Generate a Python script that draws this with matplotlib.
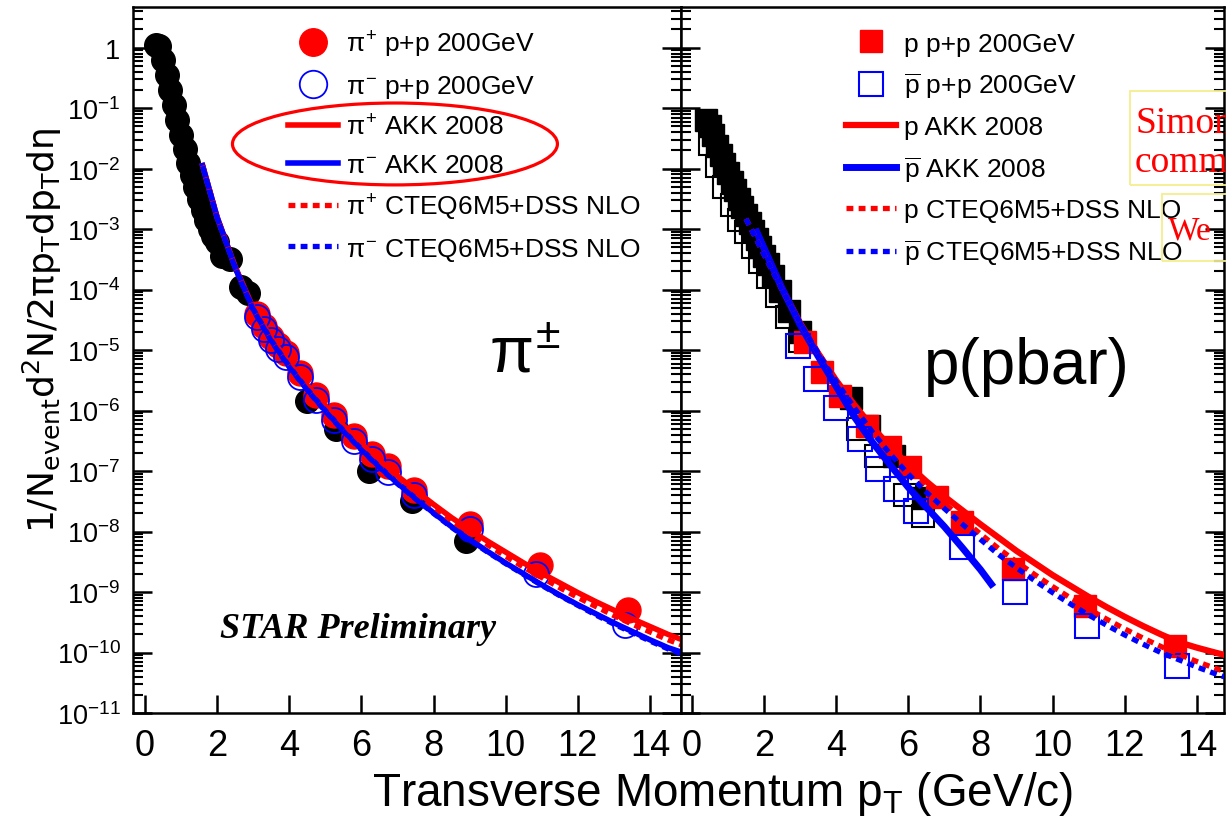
import numpy as np
import matplotlib.pyplot as plt
from matplotlib.patches import Ellipse, Rectangle
from matplotlib.ticker import LogLocator, NullFormatter

plt.rcParams['font.family'] = ['Liberation Sans', 'DejaVu Sans']
plt.rcParams['mathtext.fontset'] = 'custom'
plt.rcParams['mathtext.rm'] = 'Liberation Sans'
plt.rcParams['mathtext.it'] = 'Liberation Sans'
plt.rcParams['mathtext.bf'] = 'Liberation Sans:bold'

# ---- data (y values stored as log10) ----
# left panel: pions
blk_pi_x = [0.3, 0.4, 0.5, 0.6, 0.7, 0.8, 0.9, 1.0, 1.1, 1.2, 1.3, 1.4, 1.5, 1.6,
            1.7, 1.8, 1.9, 2.0, 2.15, 2.35, 2.65, 2.85, 4.5, 5.3, 6.2, 7.4, 8.9]
blk_pi_logy = [0.05, 0.02, -0.2, -0.45, -0.7, -0.95, -1.2, -1.45, -1.68, -1.9, -2.1,
               -2.3, -2.5, -2.68, -2.85, -3.0, -3.12, -3.22, -3.45, -3.5, -3.95, -4.05,
               -5.85, -6.3, -7.0, -7.5, -8.15]
pip_x = [3.1, 3.3, 3.5, 3.7, 3.9, 4.3, 4.75, 5.25, 5.8, 6.3, 6.75, 7.45, 9.0, 10.95, 13.4]
pip_logy = [-4.4, -4.6, -4.78, -4.92, -5.05, -5.38, -5.75, -6.08, -6.42, -6.72, -6.92,
            -7.32, -7.87, -8.56, -9.3]
pim_x = [3.1, 3.3, 3.5, 3.7, 3.9, 4.3, 4.75, 5.25, 5.8, 6.3, 6.75, 7.45, 9.0, 10.85, 13.3]
pim_logy = [-4.45, -4.65, -4.83, -4.98, -5.12, -5.45, -5.82, -6.15, -6.5, -6.8, -7.02,
            -7.4, -7.95, -8.7, -9.55]

curve_pi_x = [1.6, 2.0, 2.5, 3.0, 3.5, 4.0, 4.5, 5.0, 5.5, 6.0, 6.5, 7.0, 7.5, 8.0,
              8.5, 9.0, 9.5, 10.0, 10.5, 11.0, 11.5, 12.0, 12.5, 13.0, 13.5, 14.0, 14.5, 14.9]
akk_pip = [-1.95, -2.8, -3.62, -4.3, -4.8, -5.22, -5.58, -5.92, -6.25, -6.55, -6.82, -7.08,
           -7.32, -7.55, -7.77, -7.97, -8.16, -8.34, -8.52, -8.69, -8.85, -9.01, -9.16,
           -9.3, -9.44, -9.57, -9.7, -9.79]
akk_pim = [-1.95, -2.8, -3.63, -4.32, -4.84, -5.27, -5.65, -6.0, -6.33, -6.64, -6.93, -7.2,
           -7.45, -7.69, -7.92, -8.13, -8.33, -8.52, -8.7, -8.88, -9.05, -9.21, -9.36,
           -9.51, -9.65, -9.79, -9.92, -10.0]
nlo_pip = [-1.95, -2.8, -3.62, -4.31, -4.82, -5.24, -5.61, -5.95, -6.28, -6.58, -6.86, -7.12,
           -7.37, -7.6, -7.82, -8.03, -8.22, -8.41, -8.59, -8.76, -8.93, -9.09, -9.24,
           -9.39, -9.53, -9.66, -9.79, -9.88]
nlo_pim = [-1.96, -2.81, -3.64, -4.33, -4.85, -5.28, -5.66, -6.01, -6.34, -6.65, -6.94, -7.21,
           -7.46, -7.7, -7.93, -8.14, -8.34, -8.53, -8.71, -8.89, -9.06, -9.22, -9.38,
           -9.53, -9.67, -9.81, -9.94, -10.03]

# right panel: protons
blk_p_x = [0.4, 0.5, 0.6, 0.7, 0.8, 0.9, 1.0, 1.1, 1.2, 1.3, 1.4, 1.5, 1.6, 1.7, 1.8,
           1.9, 2.0, 2.1, 2.25, 2.45, 2.7, 3.0, 4.4, 4.9, 5.6, 6.4]
blk_p_logy = [-1.2, -1.3, -1.45, -1.62, -1.78, -1.93, -2.08, -2.22, -2.36, -2.5, -2.63,
              -2.76, -2.9, -3.03, -3.16, -3.3, -3.44, -3.57, -3.77, -4.02, -4.35, -4.7,
              -5.8, -6.25, -6.75, -7.45]
blk_pbar_x = [0.5, 0.7, 0.9, 1.1, 1.3, 1.5, 1.7, 1.9, 2.1, 2.35, 2.65, 3.0, 4.6, 5.1, 5.9, 6.4]
blk_pbar_logy = [-1.6, -1.95, -2.3, -2.6, -2.85, -3.05, -3.3, -3.55, -3.8, -4.1, -4.45,
                 -4.85, -6.3, -6.75, -7.4, -7.75]
p_x = [3.15, 3.6, 4.1, 4.85, 5.5, 6.05, 6.8, 7.5, 8.9, 10.9, 13.4]
p_logy = [-4.86, -5.36, -5.76, -6.25, -6.6, -6.93, -7.43, -7.84, -8.62, -9.23, -9.89]
pbar_x = [2.95, 3.45, 4.0, 4.65, 5.15, 5.65, 6.2, 7.5, 8.95, 10.95, 13.45]
pbar_logy = [-4.93, -5.48, -5.95, -6.47, -6.96, -7.3, -7.66, -8.25, -9.0, -9.56, -10.22]

akk_p_x = [1.8, 2.5, 3.0, 3.5, 4.0, 4.5, 5.0, 5.5, 6.0, 6.5, 7.0, 7.5, 8.0, 8.5, 9.0,
           9.5, 10.0, 10.5, 11.0, 11.5, 12.0, 12.5, 13.0, 13.5, 14.0, 14.5, 14.9]
akk_p = [-3.05, -3.98, -4.55, -5.05, -5.5, -5.9, -6.27, -6.6, -6.9, -7.17, -7.42, -7.65,
         -7.88, -8.1, -8.32, -8.52, -8.72, -8.9, -9.08, -9.25, -9.41, -9.56, -9.7, -9.83,
         -9.92, -10.0, -10.06]
akk_pbar_x = [1.8, 2.5, 3.0, 3.5, 4.0, 4.5, 5.0, 5.5, 6.0, 6.5, 7.0, 7.5, 8.0, 8.3]
akk_pbar = [-3.05, -3.98, -4.58, -5.1, -5.6, -6.1, -6.52, -6.9, -7.27, -7.6, -7.92, -8.27,
            -8.63, -8.87]
nlo_p_x = [1.5, 2.0, 2.5, 3.0, 3.5, 4.0, 4.5, 5.0, 5.5, 6.0, 6.5, 7.0, 7.5, 8.0, 8.5,
           9.0, 9.5, 10.0, 10.5, 11.0, 11.5, 12.0, 12.5, 13.0, 13.5, 14.0, 14.5, 14.9]
nlo_p = [-2.83, -3.42, -4.0, -4.55, -5.05, -5.5, -5.92, -6.3, -6.65, -6.97, -7.26, -7.53,
         -7.79, -8.04, -8.28, -8.5, -8.71, -8.91, -9.1, -9.28, -9.45, -9.61, -9.76, -9.9,
         -10.03, -10.15, -10.26, -10.34]
nlo_pbar = [-2.83, -3.42, -4.0, -4.55, -5.05, -5.52, -5.95, -6.35, -6.72, -7.05, -7.35,
            -7.62, -7.88, -8.13, -8.38, -8.6, -8.81, -9.01, -9.2, -9.38, -9.55, -9.71,
            -9.86, -10.0, -10.12, -10.24, -10.35, -10.43]

xticks = [0, 2, 4, 6, 8, 10, 12, 14]
ydecades = list(range(-11, 1))
ylabels = ['1' if d == 0 else '10$^{%d}$' % d for d in ydecades]

left_labels = [r'$\pi^{+}$ p+p 200GeV', r'$\pi^{-}$ p+p 200GeV', r'$\pi^{+}$ AKK 2008',
               r'$\pi^{-}$ AKK 2008', r'$\pi^{+}$ CTEQ6M5+DSS NLO', r'$\pi^{-}$ CTEQ6M5+DSS NLO']
right_labels = ['p p+p 200GeV', r'$\overline{\mathrm{p}}$ p+p 200GeV', 'p AKK 2008',
                r'$\overline{\mathrm{p}}$ AKK 2008', 'p CTEQ6M5+DSS NLO',
                r'$\overline{\mathrm{p}}$ CTEQ6M5+DSS NLO']


def e(v):
    return np.power(10.0, np.asarray(v))


W, H = 1226, 828
fig = plt.figure(figsize=(W / 100, H / 100), dpi=100)
ax1 = fig.add_axes([133 / W, 1 - 714 / H, 548 / W, 706 / H])
ax2 = fig.add_axes([681 / W, 1 - 714 / H, 543 / W, 706 / H])

narrow = ['Liberation Sans Narrow', 'Liberation Sans', 'DejaVu Sans']


def style(ax, xlim, show_y):
    ax.set_yscale('log')
    ax.set_xlim(*xlim)
    ax.set_ylim(1e-11, 4.7)
    ax.set_xticks(xticks, labels=[str(t) for t in xticks])
    for lab in ax.get_xticklabels():
        lab.set_family(narrow)
    ax.set_yticks(e(ydecades), labels=ylabels if show_y else [''] * len(ydecades))
    ax.yaxis.set_minor_locator(LogLocator(base=10, subs=np.arange(2, 10), numticks=60))
    ax.yaxis.set_minor_formatter(NullFormatter())
    ax.tick_params(axis='y', which='major', direction='in', length=14, width=1.8,
                   left=True, right=True, pad=9, labelsize=19.5)
    ax.tick_params(axis='y', which='minor', direction='in', length=7, width=1.5,
                   left=True, right=True)
    ax.tick_params(axis='x', which='major', direction='in', length=13, width=1.8,
                   top=False, pad=11, labelsize=26)
    for s in ax.spines.values():
        s.set_linewidth(1.8)


style(ax1, (-0.33, 14.86), True)
style(ax2, (-0.30, 14.75), False)

ms = 16
dots = (1.3, 1.0)

# ---- left panel ----
ax1.plot(blk_pi_x, e(blk_pi_logy), 'o', color='black', ms=ms + 1, zorder=2)
h1, = ax1.plot(pip_x, e(pip_logy), 'o', color='red', ms=ms + 2, mec='red', zorder=3)
h2, = ax1.plot(pim_x, e(pim_logy), 'o', mfc='none', mec='blue', mew=1.3, ms=ms + 2, zorder=4)
h3, = ax1.plot(curve_pi_x, e(akk_pip), '-', color='red', lw=4, zorder=5)
h4, = ax1.plot(curve_pi_x, e(akk_pim), '-', color='blue', lw=4, zorder=5)
h5, = ax1.plot(curve_pi_x, e(nlo_pip), color='red', lw=3.8, dashes=dots, zorder=6)
h6, = ax1.plot(curve_pi_x, e(nlo_pim), color='blue', lw=3.8, dashes=dots, zorder=6)
ax1.legend([h1, h2, h3, h4, h5, h6], left_labels, loc='upper left',
           bbox_to_anchor=(0.283, 0.969), frameon=False, fontsize=19, handlelength=1.9,
           handletextpad=0.3, labelspacing=0.53, borderaxespad=0, borderpad=0,
           markerscale=1.1)
ax1.add_patch(Ellipse((0.478, 0.806), 0.593, 0.116, transform=ax1.transAxes,
                      fill=False, edgecolor='red', lw=2.3, clip_on=False, zorder=10))
ax1.text(0.41, 0.119, 'STAR Preliminary', transform=ax1.transAxes, ha='center',
         va='center', family='Liberation Serif', weight='bold', style='italic', fontsize=26)
ax1.text(0.715, 0.508, r'$\pi^{\pm}$', transform=ax1.transAxes, ha='center',
         va='center', fontsize=46)

# ---- right panel ----
ax2.plot(blk_pbar_x, e(blk_pbar_logy), 's', mfc='none', mec='black', mew=1.5, ms=ms, zorder=2)
ax2.plot(blk_p_x, e(blk_p_logy), 's', color='black', ms=ms, zorder=2)
g3, = ax2.plot(akk_p_x, e(akk_p), '-', color='red', lw=4.5, zorder=3)
g1, = ax2.plot(p_x, e(p_logy), 's', color='red', ms=ms, zorder=4)
g2, = ax2.plot(pbar_x, e(pbar_logy), 's', mfc='none', mec='blue', mew=1.5, ms=ms + 1, zorder=5)
g4, = ax2.plot(akk_pbar_x, e(akk_pbar), '-', color='blue', lw=5, zorder=6)
g5, = ax2.plot(nlo_p_x, e(nlo_p), color='red', lw=3.8, dashes=dots, zorder=6)
g6, = ax2.plot(nlo_p_x, e(nlo_pbar), color='blue', lw=3.8, dashes=dots, zorder=6)
ax2.legend([g1, g2, g3, g4, g5, g6], right_labels, loc='upper left',
           bbox_to_anchor=(0.304, 0.965), frameon=False, fontsize=19, handlelength=1.9,
           handletextpad=0.3, labelspacing=0.56, borderaxespad=0, borderpad=0)
ax2.text(0.637, 0.491, 'p(pbar)', transform=ax2.transAxes, ha='center', va='center',
         fontsize=46)

# ---- axis titles ----
fig.text(723 / W, 1 - 806 / H, r'Transverse Momentum p$_\mathrm{T}$ (GeV/c)', ha='center',
         va='baseline', fontsize=33)
fig.text(42 / W, 1 - 330 / H,
         r'1/N$_{\mathrm{event}}$d$^{2}$N/2$\mathrm{\pi}$p$_{\mathrm{T}}$dp$_{\mathrm{T}}$d$\mathrm{\eta}$',
         rotation=90, ha='center', va='center', fontsize=26, family='DejaVu Sans',
         math_fontfamily='dejavusans')

# ---- comment boxes (cut by the slide edge) ----
for (x0, y0, x1, y1) in [(1130, 92, 1300, 186), (1162, 195, 1300, 262)]:
    fig.add_artist(Rectangle((x0 / W, 1 - y1 / H), (x1 - x0) / W, (y1 - y0) / H,
                             transform=fig.transFigure, fill=False, edgecolor='#f4ee8c',
                             lw=1.3, zorder=20))
fig.text(1135 / W, 1 - 133 / H, 'Simon', color='red', family='Liberation Serif',
         fontsize=27, va='baseline', zorder=21)
fig.text(1135 / W, 1 - 172 / H, 'comm', color='red', family='Liberation Serif',
         fontsize=27, va='baseline', zorder=21)
fig.text(1168 / W, 1 - 240 / H, 'We', color='red', family='Liberation Serif',
         fontsize=24, va='baseline', zorder=21)

fig.savefig('out.png', dpi=100)
